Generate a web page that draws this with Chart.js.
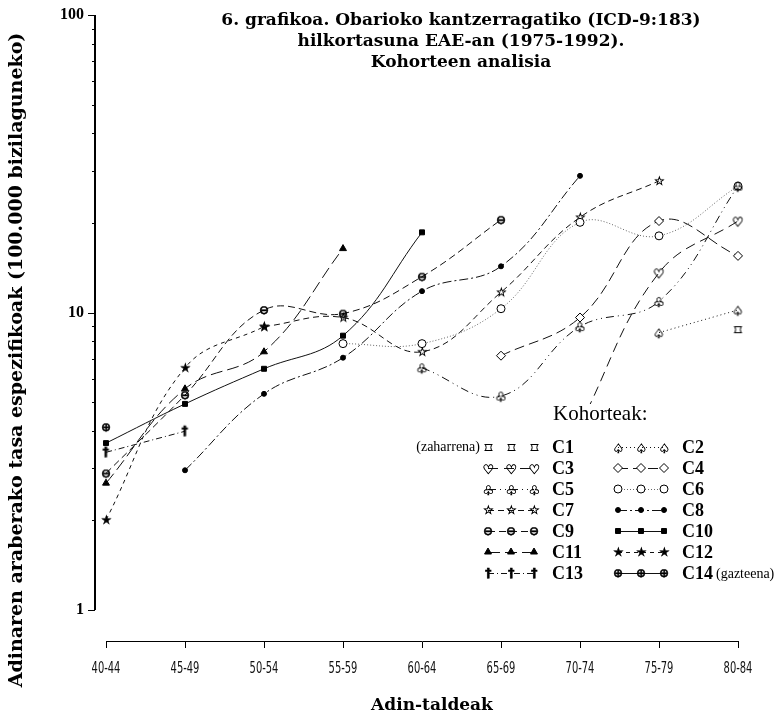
<!DOCTYPE html>
<html><head><meta charset="utf-8">
<script src="https://cdn.jsdelivr.net/npm/chart.js@4.4.1/dist/chart.umd.min.js"></script>
<style>html,body{margin:0;padding:0;background:#fff;}#wrap{width:777px;height:715px;}</style>
</head><body><div id="wrap"><canvas id="c" width="777" height="715"></canvas></div>
<script>
// ---- data ----
const ageGroups = ['40-44','45-49','50-54','55-59','60-64','65-69','70-74','75-79','80-84'];
const yTickLabels = [1, 10, 100];
const titleLines = ['6. grafikoa. Obarioko kantzerragatiko (ICD-9:183)', 'hilkortasuna EAE-an (1975-1992).', 'Kohorteen analisia'];
const yTitle = 'Adinaren araberako tasa espezifikoak (100.000 bizilaguneko)';
const xTitle = 'Adin-taldeak';
const legendTitle = 'Kohorteak:';
const cohortNames = ['C1','C2','C3','C4','C5','C6','C7','C8','C9','C10','C11','C12','C13','C14'];
const c1  = [null,null,null,null,null,null,null,null,8.76];
const c2  = [null,null,null,null,null,null,null,8.56,10.2];
const c3  = [null,null,null,null,null,null,4.2,13.6,20.3];
const c4  = [null,null,null,null,null,7.16,9.62,20.3,15.5];
const c5  = [null,null,null,null,6.52,5.24,8.97,10.9,26.6];
const c6  = [null,null,null,7.86,7.86,10.3,20.1,18.1,26.6];
const c7  = [null,null,8.97,9.62,7.38,11.7,20.9,27.7,null];
const c8  = [null,2.95,5.33,7.05,11.8,14.3,28.8,null,null];
const c9  = [2.88,5.28,10.2,9.92,13.2,20.5,null,null,null];
const c10 = [3.64,4.93,6.47,8.36,18.6,null,null,null,null];
const c11 = [2.67,5.54,7.38,16.4,null,null,null,null,null];
const c12 = [2.01,6.52,8.97,null,null,null,null,null,null];
const c13 = [3.39,3.99,null,null,null,null,null,null,null];
const c14 = [4.12,null,null,null,null,null,null,null,null];
const cohortValues = [c1,c2,c3,c4,c5,c6,c7,c8,c9,c10,c11,c12,c13,c14];

// ---- marker images ----
function glyph(ch, px, bold) {
  const s = px + 4;
  const cv = document.createElement('canvas'); cv.width = s; cv.height = s;
  const g = cv.getContext('2d');
  g.fillStyle = '#000'; g.strokeStyle = '#000'; g.lineWidth = 0.45;
  g.font = (bold ? 'bold ' : '') + px + 'px "DejaVu Sans"';
  g.textAlign = 'left'; g.textBaseline = 'alphabetic';
  const m = g.measureText(ch);
  const x = s / 2 - (m.actualBoundingBoxRight - m.actualBoundingBoxLeft) / 2;
  const y = s / 2 + (m.actualBoundingBoxAscent - m.actualBoundingBoxDescent) / 2;
  g.fillText(ch, x, y);
  g.strokeText(ch, x, y);
  return cv;
}
function squareLozenge() {
  const cv = document.createElement('canvas'); cv.width = 11; cv.height = 11;
  const g = cv.getContext('2d'); g.strokeStyle = '#000'; g.lineWidth = 1;
  g.beginPath();
  g.moveTo(1.5, 2.5); g.lineTo(9.5, 2.5);
  g.moveTo(1.5, 8.5); g.lineTo(9.5, 8.5);
  g.moveTo(2.5, 2.5); g.quadraticCurveTo(3.8, 5.5, 2.5, 8.5);
  g.moveTo(8.5, 2.5); g.quadraticCurveTo(7.2, 5.5, 8.5, 8.5);
  g.stroke();
  return cv;
}

const markers = [
  {ps: squareLozenge(), r: 5},
  {ps: glyph('\u2664', 13, true), r: 6},
  {ps: glyph('\u2661', 13, true), r: 6},
  {ps: 'rectRot', r: 4.5, fill: '#fff'},
  {ps: glyph('\u2667', 13, true), r: 6},
  {ps: 'circle', r: 4, fill: '#fff'},
  {ps: glyph('\u2606', 12, true), r: 6},
  {ps: 'circle', r: 2.5, fill: '#000'},
  {ps: glyph('\u2296', 12, true), r: 6},
  {ps: 'rect', r: 3.5, fill: '#000'},
  {ps: 'triangle', r: 4, fill: '#000'},
  {ps: glyph('\u2605', 12, true), r: 6},
  {ps: glyph('\u2020', 13, true), r: 6},
  {ps: glyph('\u2295', 12, true), r: 6}
];
const lineStyles = [
  {dash: [], legendLine: false},
  {dash: [1, 3], legendLine: true},
  {dash: [10, 6], legendLine: true},
  {dash: [10, 5], legendLine: true},
  {dash: [8, 4, 1, 4, 1, 4], legendLine: true},
  {dash: [1, 2], legendLine: true, color: '#666'},
  {dash: [6, 4], legendLine: true},
  {dash: [9, 3, 2, 3], legendLine: true},
  {dash: [7, 4], legendLine: true},
  {dash: [], legendLine: true},
  {dash: [12, 5], legendLine: true},
  {dash: [4, 4], legendLine: true},
  {dash: [6, 3, 1, 3], legendLine: true},
  {dash: [], legendLine: true}
];

const datasets = cohortNames.map((name, k) => ({
  label: name,
  data: cohortValues[k],
  borderColor: lineStyles[k].color || '#111',
  borderWidth: 1,
  borderDash: lineStyles[k].dash,
  tension: 0.4,
  spanGaps: true,
  fill: false,
  pointStyle: markers[k].ps,
  pointRadius: markers[k].r,
  pointBackgroundColor: markers[k].fill || '#000',
  pointBorderColor: '#000',
  pointBorderWidth: 1
}));

const serif = '"Liberation Serif", "DejaVu Serif", serif';
const wideSerif = '"DejaVu Serif", "Liberation Serif", serif';

function drawMarker(ctx, k, x, y) {
  const m = markers[k];
  if (m.ps instanceof HTMLCanvasElement) {
    ctx.drawImage(m.ps, Math.round(x - m.ps.width / 2), Math.round(y - m.ps.height / 2));
    return;
  }
  ctx.save();
  ctx.fillStyle = m.fill || '#000'; ctx.strokeStyle = '#000'; ctx.lineWidth = 1; ctx.setLineDash([]);
  Chart.helpers.drawPoint(ctx, {pointStyle: m.ps, radius: m.r, rotation: 0, borderWidth: 1}, x, y);
  ctx.restore();
}

const decorPlugin = {
  id: 'decor',
  afterDatasetsDraw(chart) {
    const ctx = chart.ctx;
    ctx.save();
    ctx.fillStyle = '#fff';
    ctx.fillRect(545, 404, 777 - 545, 185);
    ctx.fillRect(405, 434, 140, 155);
    ctx.fillStyle = '#000';
    ctx.font = '21px ' + serif; ctx.textAlign = 'left'; ctx.textBaseline = 'middle';
    ctx.fillText(legendTitle, 553, 414);
    cohortNames.forEach((name, k) => {
      const col = k % 2, row = Math.floor(k / 2);
      const xs = col ? [618, 641, 664] : [488, 511, 534];
      const y = 447 + 21 * row;
      const st = lineStyles[k];
      if (st.legendLine) {
        ctx.save();
        ctx.strokeStyle = st.color || '#111'; ctx.lineWidth = 1; ctx.setLineDash(st.dash);
        ctx.beginPath(); ctx.moveTo(xs[0], y + 0.5); ctx.lineTo(xs[2], y + 0.5); ctx.stroke();
        ctx.restore();
      }
      xs.forEach(x => drawMarker(ctx, k, x, y));
      ctx.fillStyle = '#000';
      ctx.font = 'bold 18px ' + serif; ctx.textAlign = 'left'; ctx.textBaseline = 'middle';
      const lx = col ? 682 : 552;
      ctx.fillText(name, lx, y + 1);
      if (k === 0) {
        ctx.font = '14px ' + serif; ctx.textAlign = 'right';
        ctx.fillText('(zaharrena)', 480, y);
      }
      if (k === 13) {
        const w = ctx.measureText(name).width;
        ctx.font = '14px ' + serif; ctx.textAlign = 'left';
        ctx.fillText('(gazteena)', lx + w + 3, y + 1);
      }
    });
    ctx.restore();
  },
  afterDraw(chart) {
    const ctx = chart.ctx, ys = chart.scales.y, xs = chart.scales.x;
    ctx.save();
    const ax = chart.chartArea.left - 11;
    ctx.strokeStyle = '#000'; ctx.lineWidth = 2;
    ctx.beginPath(); ctx.moveTo(ax, ys.getPixelForValue(1)); ctx.lineTo(ax, ys.getPixelForValue(100)); ctx.stroke();
    ctx.lineWidth = 1;
    ys.ticks.forEach(t => {
      const py = Math.round(ys.getPixelForValue(t.value)) + 0.5;
      const major = yTickLabels.includes(t.value);
      ctx.beginPath(); ctx.moveTo(ax - (major ? 7 : 3), py); ctx.lineTo(ax, py); ctx.stroke();
    });
    ctx.fillStyle = '#111'; ctx.font = '16px "DejaVu Sans"'; ctx.textAlign = 'center'; ctx.textBaseline = 'middle';
    ageGroups.forEach((lab, i) => {
      const px = xs.getPixelForTick(i);
      ctx.save(); ctx.translate(px, 669); ctx.scale(0.62, 1); ctx.fillText(lab, 0, 0); ctx.restore();
    });
    ctx.fillStyle = '#000';
    ctx.font = 'bold 17px ' + wideSerif; ctx.textAlign = 'center'; ctx.textBaseline = 'middle';
    titleLines.forEach((t, i) => ctx.fillText(t, 461, 21 + 21 * i));
    ctx.font = 'bold 17px ' + wideSerif;
    ctx.fillText(xTitle, 432, 706);
    ctx.save(); ctx.translate(17, 360); ctx.rotate(-Math.PI / 2);
    ctx.font = 'bold 19px ' + wideSerif; ctx.fillText(yTitle, 0, 0); ctx.restore();
    ctx.restore();
  }
};

new Chart(document.getElementById('c'), {
  type: 'line',
  data: {labels: ageGroups, datasets: datasets},
  plugins: [decorPlugin],
  options: {
    responsive: false, animation: false, devicePixelRatio: 1,
    events: [],
    layout: {padding: {top: 15, right: 39, bottom: 0, left: 0}},
    plugins: {legend: {display: false}, tooltip: {enabled: false}, title: {display: false}},
    scales: {
      x: {
        type: 'category', offset: false,
        grid: {display: true, drawOnChartArea: false, drawTicks: true, tickLength: 7, color: '#000', lineWidth: 1},
        border: {display: true, color: '#000', width: 1},
        ticks: {display: false},
        afterFit: s => { s.height = 74; s.paddingLeft = 0; s.paddingRight = 0; }
      },
      y: {
        type: 'logarithmic', min: 0.787, max: 100,
        grid: {display: false, drawTicks: false},
        border: {display: false},
        afterBuildTicks: s => {
          const v = [];
          [1, 10].forEach(d => { for (let i = 1; i <= 9; i++) v.push(d * i); });
          v.push(100);
          s.ticks = v.map(x => ({value: x}));
        },
        ticks: {
          padding: 22, color: '#000',
          font: {family: serif, weight: 'bold', size: 16},
          callback: v => yTickLabels.includes(v) ? String(v) : ''
        },
        afterFit: s => { s.width = 106; s.paddingTop = 0; s.paddingBottom = 0; }
      }
    }
  }
});
</script></body></html>
